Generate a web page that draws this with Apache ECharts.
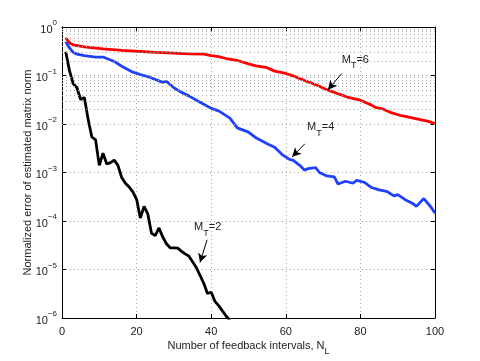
<!DOCTYPE html>
<html>
<head>
<meta charset="utf-8">
<script src="https://cdn.jsdelivr.net/npm/echarts@6/dist/echarts.min.js"></script>
<style>
html,body{margin:0;padding:0;background:#fff;}
#chart{width:480px;height:361px;}
</style>
</head>
<body>
<div id="chart"></div>
<script>
// ---- data ----
const xTicks = [0, 20, 40, 60, 80, 100];
const yDecades = [1e-6, 1e-5, 1e-4, 1e-3, 1e-2, 1e-1, 1];

// M_T = 2 (black)
const n2 = [1,2,3,4,5,6,7,8,9,10,11,12,13,14,15,16,17,18,19,20,21,22,23,24,25,26,27,28,29,30,31,32,33,34,35,36,37,38,39,40,41,42,43,44,45];
const e2 = [0.31,0.126,0.068,0.056,0.032,0.035,0.0126,0.0054,0.0047,0.0014,0.0025,0.0015,0.0016,0.0018,0.0014,
  7.9e-4,6.0e-4,5.0e-4,4.0e-4,2.8e-4,1.15e-4,2.0e-4,1.4e-4,5.6e-5,5.0e-5,7.2e-5,4.7e-5,3.4e-5,2.8e-5,2.8e-5,
  2.75e-5,2.4e-5,2.1e-5,1.9e-5,1.45e-5,1.1e-5,7.6e-6,5.2e-6,3.2e-6,3.4e-6,2.2e-6,1.8e-6,1.4e-6,1.1e-6,8.9e-7];

// M_T = 4 (blue)
const n4 = [1,2,3,4,6,9,11,14,16,19,21,24,27,28,30,32,34,37,40,42,45,47,50,52,55,57,59,61,62,64,65,66,68,69,71,73,74,76,78,79,81,83,85,87,89,90,92,94,95,97,99,100];
const e4 = [0.5,0.37,0.30,0.275,0.257,0.24,0.24,0.195,0.155,0.117,0.105,0.089,0.072,0.076,0.056,0.045,0.038,0.028,0.021,0.0186,
  0.0132,0.0083,0.0068,0.0052,0.0039,0.0033,0.00234,0.00186,0.00178,0.00135,0.00112,0.0012,0.00126,0.001,8.5e-4,8.1e-4,
  5.8e-4,6.6e-4,6.0e-4,6.9e-4,6.3e-4,4.9e-4,4.4e-4,4.1e-4,3.3e-4,3.5e-4,2.75e-4,2.3e-4,2.0e-4,2.9e-4,1.9e-4,1.45e-4];

// M_T = 6 (red)
const n6 = [1,2,3,6,11,16,20,25,30,34,38,40,42,44,47,50,52,55,57,60,62,65,67,69,71,74,77,80,83,84,86,88,91,93,96,98,100];
const e6 = [0.6,0.47,0.43,0.39,0.355,0.33,0.316,0.30,0.29,0.28,0.275,0.257,0.245,0.224,0.204,0.174,0.158,0.145,0.123,0.11,
  0.098,0.079,0.069,0.06,0.051,0.042,0.035,0.031,0.0245,0.022,0.0204,0.0174,0.0148,0.0138,0.0123,0.0115,0.0102];

// annotations: text anchor, arrow tail, arrow head
const ann6 = {mt: '6', text: [75, 0.19], tail: [75, 0.11], head: [71.3, 0.051]};
const ann4 = {mt: '4', text: [65.7, 0.0076], tail: [65.1, 0.0039], head: [61.7, 0.0021]};
const ann2 = {mt: '2', text: [35.4, 6.6e-5], tail: [38.9, 4.1e-5], head: [37.0, 1.4e-5]};

// ---- chart ----
const FONT = 'Liberation Sans, Arial, Helvetica, sans-serif';
const pair = (xs, ys) => xs.map((x, i) => [x, ys[i]]);

// minor log grid positions (2..9 x each decade)
const minorVals = [];
for (let d = 0; d < yDecades.length - 1; d++) {
  for (let m = 2; m <= 9; m++) minorVals.push(yDecades[d] * m);
}

function annMarks(a) {
  return {
    markLine: {
      silent: true, symbol: ['none', 'arrow'], symbolSize: [7, 9], animation: false,
      label: {show: false},
      lineStyle: {color: '#000', width: 1, type: 'solid'},
      itemStyle: {color: '#000'},
      data: [[{coord: a.tail}, {coord: a.head}]]
    },
    markPoint: {
      silent: true, symbol: 'circle', symbolSize: 0.01, animation: false,
      data: [{coord: a.text}],
      label: {
        show: true, position: 'right', distance: 0,
        formatter: '{m|M}{t|T}{m|=' + a.mt + '}',
        rich: {
          m: {fontSize: 11, fontFamily: FONT, color: '#222', lineHeight: 16, verticalAlign: 'top'},
          t: {fontSize: 9, fontFamily: FONT, color: '#222', lineHeight: 16, verticalAlign: 'bottom', padding: [6, 0, 0, 0]}
        }
      }
    }
  };
}

const chart = echarts.init(document.getElementById('chart'), null, {renderer: 'canvas'});
const option = {
  animation: false,
  backgroundColor: '#fff',
  grid: {left: 62, right: 45, top: 27, bottom: 40},
  xAxis: [{
    type: 'value', min: xTicks[0], max: xTicks[xTicks.length - 1], interval: 20,
    axisLine: {show: true, lineStyle: {color: '#000', width: 1}},
    axisTick: {show: true, inside: true, length: 4, lineStyle: {color: '#000'}},
    axisLabel: {color: '#222', fontSize: 11, fontFamily: FONT, margin: 8},
    splitLine: {show: true, lineStyle: {color: '#aaa', width: 1, type: [1, 3]}},
    name: '{a|Number of feedback intervals, N}{s|L}',
    nameLocation: 'middle', nameGap: 22, nameMoveOverlap: false,
    nameTextStyle: {
      rich: {
        a: {fontSize: 11, fontFamily: FONT, color: '#222', lineHeight: 16, verticalAlign: 'top'},
        s: {fontSize: 9, fontFamily: FONT, color: '#222', lineHeight: 16, verticalAlign: 'bottom', padding: [6, 0, 0, 0]}
      }
    }
  }, {
    type: 'value', position: 'top', min: 0, max: 100, interval: 20,
    axisLine: {show: true, onZero: false, lineStyle: {color: '#000', width: 1}},
    axisTick: {show: true, inside: true, length: 4, lineStyle: {color: '#000'}},
    axisLabel: {show: false}, splitLine: {show: false}
  }],
  yAxis: [{
    type: 'log', logBase: 10, min: yDecades[0], max: yDecades[yDecades.length - 1],
    axisLine: {show: true, lineStyle: {color: '#000', width: 1}},
    axisTick: {show: true, inside: true, length: 4, lineStyle: {color: '#000'}},
    axisLabel: {
      margin: 5,
      formatter: function (v) {
        const e = Math.round(Math.log10(v));
        return '{b|10}{s|' + (e < 0 ? '\u2212' + (-e) : e) + '}';
      },
      rich: {
        b: {fontSize: 11, fontFamily: FONT, color: '#222', lineHeight: 16, verticalAlign: 'bottom', padding: [6, 0, 0, 0]},
        s: {fontSize: 8, fontFamily: FONT, color: '#222', lineHeight: 16, verticalAlign: 'top'}
      }
    },
    splitLine: {show: true, lineStyle: {color: '#aaa', width: 1, type: [1, 3]}},
    name: 'Normalized error of estimated matrix norm',
    nameLocation: 'middle', nameGap: 29, nameMoveOverlap: false,
    nameTextStyle: {fontSize: 11, fontFamily: FONT, color: '#222'}
  }, {
    type: 'log', logBase: 10, min: 1e-6, max: 1, position: 'right',
    axisLine: {show: true, onZero: false, lineStyle: {color: '#000', width: 1}},
    axisTick: {show: true, inside: true, length: 4, lineStyle: {color: '#000'}},
    axisLabel: {show: false}, splitLine: {show: false}
  }],
  series: [
    {
      type: 'line', data: [], silent: true, symbol: 'none',
      markLine: {
        silent: true, symbol: 'none', animation: false, label: {show: false},
        lineStyle: {color: '#aaa', width: 1, type: [1, 3]},
        data: minorVals.map(v => ({yAxis: v}))
      }
    },
    Object.assign({
      name: 'MT=6', type: 'line', data: pair(n6, e6), symbol: 'none', smooth: false,
      lineStyle: {color: '#ff0000', width: 2.8}, itemStyle: {color: '#ff0000'}, z: 3
    }, annMarks(ann6)),
    Object.assign({
      name: 'MT=4', type: 'line', data: pair(n4, e4), symbol: 'none',
      lineStyle: {color: '#2040ff', width: 2.8}, itemStyle: {color: '#2040ff'}, z: 3
    }, annMarks(ann4)),
    Object.assign({
      name: 'MT=2', type: 'line', data: pair(n2, e2), symbol: 'none', clip: true,
      lineStyle: {color: '#000', width: 2.8}, itemStyle: {color: '#000'}, z: 3
    }, annMarks(ann2))
  ]
};
chart.setOption(option);
</script>
</body>
</html>
